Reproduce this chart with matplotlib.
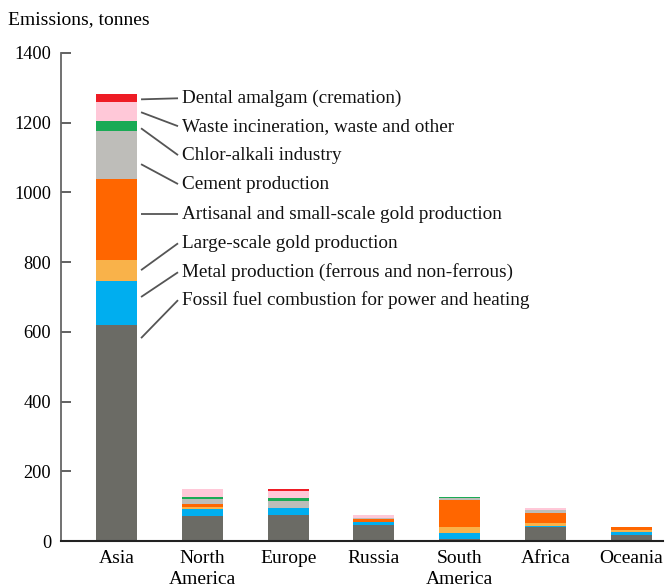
import numpy as np
import matplotlib
matplotlib.use("Agg")
import matplotlib.pyplot as plt

plt.rcParams['font.family'] = ['Liberation Serif', 'DejaVu Serif']

regions = ['Asia', 'North\nAmerica', 'Europe', 'Russia', 'South\nAmerica', 'Africa', 'Oceania']
sources = ['Fossil fuel combustion for power and heating',
           'Metal production (ferrous and non-ferrous)',
           'Large-scale gold production',
           'Artisanal and small-scale gold production',
           'Cement production',
           'Chlor-alkali industry',
           'Waste incineration, waste and other',
           'Dental amalgam (cremation)']
colors = ['#6b6b65', '#00aeef', '#f9b24a', '#ff6600', '#bebdb9', '#1aaa55', '#ffc8d8', '#ee1c25']

# tonnes per source, one row per source, columns follow regions
fossil     = [621, 72, 75, 46,  5, 41, 17]
metal      = [124, 19, 21,  9, 18,  1, 10]
large_gold = [ 60,  7,  0,  0, 16,  9,  5]
artisanal  = [233,  8,  0,  8, 80, 29,  7]
cement     = [138, 14, 20,  4,  5, 10,  0]
chlor      = [ 30,  7,  8,  0,  3,  0,  0]
waste      = [ 54, 21, 19,  9,  0,  6,  0]
dental     = [ 21,  0,  6,  0,  0,  0,  0]
values = np.array([fossil, metal, large_gold, artisanal, cement, chlor, waste, dental])

# leader lines on the Asia bar: where they leave the bar and where the label sits
leader_from = [582, 700, 777, 938, 1081, 1184, 1230, 1267]
label_y = [691, 771, 854, 938, 1024, 1107, 1190, 1270]

fig = plt.figure(figsize=(6.66, 5.88), dpi=100)
ax = fig.add_axes([61/666, 0.0799, 602/666, 0.83])

x = np.arange(len(regions))
bottom = np.zeros(len(regions))
for vals, c in zip(values, colors):
    ax.bar(x, vals, 0.48, bottom=bottom, color=c, linewidth=0)
    bottom += vals

for name, y0, y1 in zip(sources, leader_from, label_y):
    ax.plot([0.286, 0.717], [y0, y1], color='#555555', lw=1.3, solid_capstyle='butt')
    ax.text(0.763, y1, name, fontsize=13.8, va='center', ha='left', color='#111111')

ax.set_xlim(-0.647, 6.37)
ax.set_ylim(0, 1400)
ax.set_yticks(np.arange(0, 1401, 200))
ax.set_xticks(x)
ax.set_xticklabels(regions, fontsize=14, linespacing=1.3)
ax.tick_params(axis='x', length=0, pad=6.5)
ax.tick_params(axis='y', direction='in', length=7, width=1.3, color='#555555',
               labelsize=13.2, pad=7)
for s in ['top', 'right']:
    ax.spines[s].set_visible(False)
ax.spines['left'].set_color('#666666')
ax.spines['left'].set_linewidth(1.3)
ax.spines['bottom'].set_color('#222222')
ax.spines['bottom'].set_linewidth(1.5)

fig.text(8/666, 1 - 20/588, 'Emissions, tonnes', fontsize=14, va='center', ha='left')

fig.savefig('out.png', dpi=100)
